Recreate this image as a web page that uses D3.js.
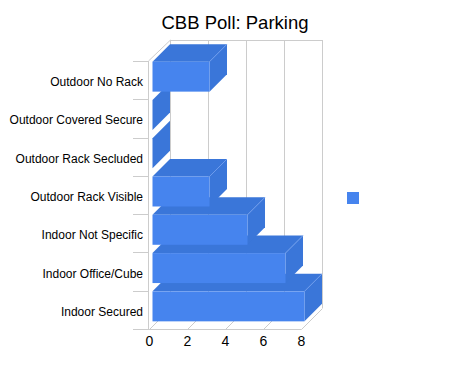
<!DOCTYPE html>
<html>
<head>
<meta charset="utf-8">
<script src="https://cdn.jsdelivr.net/npm/d3@7/dist/d3.min.js"></script>
<style>
  html, body { margin: 0; padding: 0; background: #fff; }
  svg { display: block; font-family: "Liberation Sans", Arial, sans-serif; }
</style>
</head>
<body>
<svg id="chart" width="455" height="368"></svg>
<script>
const title = "CBB Poll: Parking";
const categories = ["Outdoor No Rack", "Outdoor Covered Secure", "Outdoor Rack Secluded",
  "Outdoor Rack Visible", "Indoor Not Specific", "Indoor Office/Cube", "Indoor Secured"];
const values = [3, 0, 0, 3, 5, 7, 8];
const xTicks = [0, 2, 4, 6, 8];

const svg = d3.select("#chart");
const W = 455, H = 368;
svg.append("rect").attr("width", W).attr("height", H).attr("fill", "#fff");

const plot = { left: 149, right: 301, top: 61, bottom: 329, depth: 21 };
const x = d3.scaleLinear().domain([0, 8]).range([plot.left, plot.right]);
const y = d3.scaleBand().domain(categories).range([plot.top, plot.bottom])
  .paddingInner(0.217).paddingOuter(0.1085);
const D = plot.depth;
const P = (px, py, d) => [px + d, py - d];
const grid = "#cccccc";
const front = "#4684ee", dark = "#3a76d9", edge = "#6d9cef";

// back wall grid
const g = svg.append("g");
xTicks.forEach(t => {
  const [bx, by] = P(x(t), plot.top, D);
  const [bx2, by2] = P(x(t), plot.bottom, D);
  g.append("line").attr("x1", bx + 0.5).attr("x2", bx2 + 0.5).attr("y1", by).attr("y2", by2)
    .attr("stroke", grid);
  // floor diagonals
  const [fx, fy] = P(x(t), plot.bottom, 0);
  g.append("line").attr("x1", fx + 0.5).attr("y1", fy + 0.5).attr("x2", bx2 + 0.5).attr("y2", by2 + 0.5)
    .attr("stroke", grid);
});
// back top line
g.append("line").attr("x1", x(0) + D).attr("x2", x(8) + D + 0.5)
  .attr("y1", plot.top - D + 0.5).attr("y2", plot.top - D + 0.5).attr("stroke", grid);
// left top diagonal
g.append("line").attr("x1", plot.left - 0.5).attr("y1", plot.top).attr("x2", plot.left + D + 0.5).attr("y2", plot.top - D)
  .attr("stroke", grid);
// floor front line
g.append("line").attr("x1", plot.left - 0.5).attr("x2", plot.right + 0.5)
  .attr("y1", plot.bottom + 0.5).attr("y2", plot.bottom + 0.5).attr("stroke", grid);
// left front axis line
g.append("line").attr("x1", plot.left - 0.5).attr("x2", plot.left - 0.5)
  .attr("y1", plot.top).attr("y2", plot.bottom + 1).attr("stroke", grid);
// category boundary ticks
const step = y.step();
const bounds = d3.range(categories.length + 1).map(k => plot.top + k * step);
bounds.forEach(b => {
  g.append("line").attr("x1", plot.left - 16).attr("x2", plot.left)
    .attr("y1", Math.round(b) + 0.5).attr("y2", Math.round(b) + 0.5).attr("stroke", grid);
});

// bars (bottom to top for occlusion)
const d1 = 3.5, d2 = D;
const bw = y.bandwidth();
const barsG = svg.append("g");
const order = d3.range(categories.length).reverse();
order.forEach(i => {
  const c = categories[i], v = values[i];
  const x0 = x(0), x1 = x(v), yt = y(c), yb = yt + bw;
  const poly = pts => pts.map(p => p.join(",")).join(" ");
  if (v > 0) {
    barsG.append("polygon")
      .attr("points", poly([P(x0, yt, d1), P(x1, yt, d1), P(x1, yt, d2), P(x0, yt, d2)]))
      .attr("fill", dark);
  }
  barsG.append("polygon")
    .attr("points", poly([P(x1, yt, d1), P(x1, yb, d1), P(x1, yb, d2), P(x1, yt, d2)]))
    .attr("fill", dark);
  if (v > 0) {
    const [fx, fy] = P(x0, yt, d1);
    const [fx2, fy2] = P(x1, yb, d1);
    barsG.append("rect").attr("x", fx).attr("y", fy).attr("width", fx2 - fx).attr("height", fy2 - fy)
      .attr("fill", front);
    const a = P(x1, yt, d1), b = P(x1, yt, d2);
    barsG.append("line").attr("x1", a[0]).attr("y1", a[1]).attr("x2", b[0]).attr("y2", b[1])
      .attr("stroke", edge).attr("stroke-width", 0.8);
  }
});

// y axis labels
const yAxis = d3.axisLeft(y).tickSize(0).tickPadding(6);
const ya = svg.append("g").attr("transform", `translate(${plot.left},0)`).call(yAxis);
ya.select(".domain").remove();
ya.selectAll("text").attr("font-size", 12).attr("fill", "#000")
  .attr("font-family", "Liberation Sans, Arial, sans-serif").attr("dy", "0.5em");

// x axis labels
const xAxis = d3.axisBottom(x).tickValues(xTicks).tickSize(0).tickPadding(7);
const xa = svg.append("g").attr("transform", `translate(0,${plot.bottom})`).call(xAxis);
xa.select(".domain").remove();
xa.selectAll("text").attr("font-size", 14).attr("fill", "#000")
  .attr("font-family", "Liberation Sans, Arial, sans-serif");

// title
svg.append("text").attr("x", 235).attr("y", 29).attr("text-anchor", "middle")
  .attr("font-size", 18.5).attr("fill", "#000").text(title);

// legend
svg.append("rect").attr("x", 347).attr("y", 192).attr("width", 12).attr("height", 12).attr("fill", front);
</script>
</body>
</html>
